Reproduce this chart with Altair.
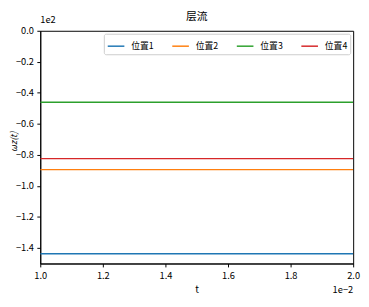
import altair as alt
import pandas as pd

series = ["位置1", "位置2", "位置3", "位置4"]
values = [-143.7, -89.5, -46.0, -82.4]
colors = ["#1f77b4", "#ff7f0e", "#2ca02c", "#d62728"]
t_range = [0.010, 0.020]
x_ticks = [0.010, 0.012, 0.014, 0.016, 0.018, 0.020]
y_ticks = [0, -20, -40, -60, -80, -100, -120, -140]

rows = []
for s, v in zip(series, values):
    for t in t_range:
        rows.append({"t": t, "w": v, "series": s})
df = pd.DataFrame(rows)

FONT = "Noto Sans CJK SC"

xscale = alt.Scale(domain=[0.010, 0.020], nice=False, zero=False)
yscale = alt.Scale(domain=[-150, 0], nice=False)

xaxis = alt.Axis(values=x_ticks, labelExpr="format(datum.value*100, '.1f')",
                 title="t", grid=False, tickSize=3.5, labelPadding=3.5, titlePadding=5,
                 labelFontSize=9.5, titleFontSize=10, titleFontWeight="normal",
                 labelFlush=False, labelOverlap=False,
                 domainColor="black", tickColor="black", labelColor="black",
                 titleColor="black", labelFont=FONT, titleFont=FONT)
yaxis = alt.Axis(values=y_ticks, labelExpr="format(datum.value/100, '.1f')",
                 title="ωz(t)", grid=False, tickSize=3.5, labelPadding=3.5,
                 labelFontSize=9.5, titleFontSize=9, titleFontWeight="normal",
                 titleFontStyle="italic", labelFlush=False, labelOverlap=False,
                 titleX=-27, titleY=113, titleAlign="center", titleBaseline="middle",
                 titleAngle=270,
                 domainColor="black", tickColor="black", labelColor="black",
                 titleColor="black", labelFont=FONT, titleFont=FONT)

lines = alt.Chart(df).mark_line(strokeWidth=1.5, clip=True).encode(
    x=alt.X("t:Q", scale=xscale, axis=xaxis),
    y=alt.Y("w:Q", scale=yscale, axis=yaxis),
    color=alt.Color("series:N", scale=alt.Scale(domain=series, range=colors),
                    legend=alt.Legend(title=None, orient="top-right", direction="horizontal",
                                      columns=4, symbolType="stroke", symbolSize=289,
                                      symbolStrokeWidth=1.5, labelFontSize=9, labelFont=FONT,
                                      labelOffset=6, columnPadding=16, offset=3, padding=3,
                                      strokeColor="#cccccc", fillColor="white",
                                      cornerRadius=2, labelColor="black")),
)

title_df = pd.DataFrame({"t": [0.015], "w": [0.0], "label": ["层流"]})
title_txt = alt.Chart(title_df).mark_text(align="center", baseline="middle", dy=-14,
                                          fontSize=11, font=FONT, color="black").encode(
    x=alt.X("t:Q", scale=xscale, axis=xaxis), y=alt.Y("w:Q", scale=yscale, axis=yaxis),
    text="label:N")

off_df = pd.DataFrame({"t": [0.010], "w": [0.0], "label": ["1e2"]})
off_y = alt.Chart(off_df).mark_text(align="left", baseline="middle", dy=-11, fontSize=9.5,
                                     font=FONT, color="black").encode(
    x=alt.X("t:Q", scale=xscale, axis=xaxis), y=alt.Y("w:Q", scale=yscale, axis=yaxis),
    text="label:N")

off_x_df = pd.DataFrame({"t": [0.020], "w": [-150.0], "label": ["1e−2"]})
off_x = alt.Chart(off_x_df).mark_text(align="right", baseline="middle", dy=27, fontSize=9.5,
                                       font=FONT, color="black").encode(
    x=alt.X("t:Q", scale=xscale, axis=xaxis), y=alt.Y("w:Q", scale=yscale, axis=yaxis),
    text="label:N")

chart = alt.layer(lines, title_txt, off_y, off_x).properties(
    width=320, height=238,
    autosize=alt.AutoSizeParams(type="none"),
    padding={"left": 33, "top": 20, "right": 8, "bottom": 33},
).configure_view(stroke="black", strokeWidth=1)

chart.save("out.html", embed_options={"renderer": "svg", "actions": False})
